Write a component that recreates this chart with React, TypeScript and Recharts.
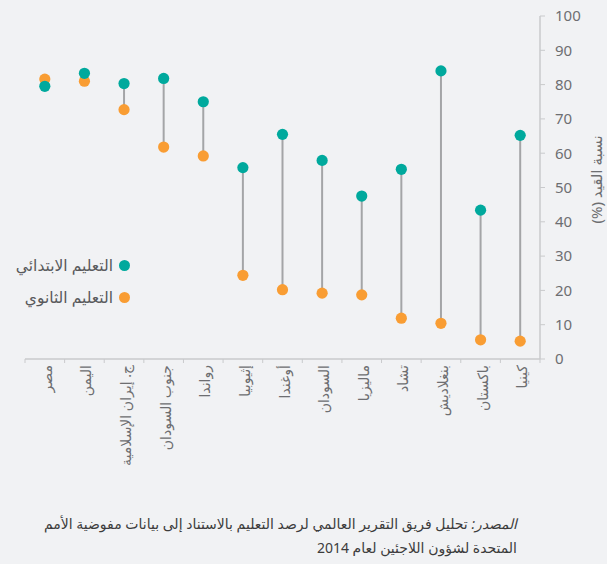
import React from 'react';
import { ComposedChart, Scatter, XAxis, YAxis, ErrorBar, Label } from 'recharts';

const categories = ['مصر', 'اليمن', 'ج. إيران الإسلامية', 'جنوب السودان', 'رواندا', 'إثيوبيا', 'أوغندا', 'السودان', 'ماليزيا', 'تشاد', 'بنغلاديش', 'باكستان', 'كينيا'];
const primary = [79.5, 83.3, 80.3, 81.8, 75.0, 55.8, 65.5, 57.9, 47.5, 55.3, 84.0, 43.4, 65.2];
const secondary = [81.6, 81.0, 72.7, 61.8, 59.2, 24.4, 20.2, 19.2, 18.7, 11.9, 10.4, 5.6, 5.2];
const yTicks = [0, 10, 20, 30, 40, 50, 60, 70, 80, 90, 100];
const seriesNames = ['التعليم الابتدائي', 'التعليم الثانوي'];
const seriesColors = ['#00a99d', '#f99d33'];
const yLabel = 'نسبة القيد (%)';
const sourceLead = 'المصدر:';
const sourceLine1 = ' تحليل فريق التقرير العالمي لرصد التعليم بالاستناد إلى بيانات مفوضية الأمم';
const sourceLine2 = 'المتحدة لشؤون اللاجئين لعام 2014';

const data = categories.map((name, i) => ({
  x: i + 0.5,
  name,
  primary: primary[i],
  secondary: secondary[i],
  err: primary[i] >= secondary[i] ? [0, primary[i] - secondary[i]] : [secondary[i] - primary[i], 0],
}));

const xTicks: number[] = [];
for (let i = 0; i <= categories.length * 2; i++) xTicks.push(i / 2);

const FONT = "'Noto Sans', 'DejaVu Sans', sans-serif";
const AXIS = '#c9cacc';
const TEXT = '#6d6e71';

const XTick = (props: any) => {
  const { x, y, payload } = props;
  const v = payload.value;
  if (Number.isInteger(v)) {
    return <line x1={x} x2={x} y1={y - 6} y2={y - 2} stroke={AXIS} strokeWidth={1} />;
  }
  const idx = Math.floor(v);
  return (
    <text
      transform={`translate(${x + 7},${y}) rotate(-90)`}
      textAnchor="end"
      fill={TEXT}
      fontSize={14}
      fontFamily={FONT}
    >
      {categories[idx]}
    </text>
  );
};

const Dot = (color: string) => (p: any) => <circle cx={p.cx} cy={p.cy} r={5.6} fill={color} />;

const YLabelContent = (props: any) => {
  const vb = props.viewBox;
  const cx = vb.x + vb.width - 11;
  const cy = vb.y + vb.height / 2 - 8;
  return (
    <text
      transform={`translate(${cx},${cy}) rotate(-90)`}
      textAnchor="middle"
      dominantBaseline="central"
      direction="rtl"
      fill={TEXT}
      fontSize={15}
      fontFamily={FONT}
    >
      {yLabel}
    </text>
  );
};

export default function App() {
  return (
    <div style={{ position: 'absolute', left: 0, top: 0, width: 607, height: 564, background: '#f1f2f4', fontFamily: FONT }}>
      <ComposedChart width={607} height={564} data={data} margin={{ top: 16, right: 0, left: 25, bottom: 65 }}>
        <XAxis
          dataKey="x"
          type="number"
          domain={[0, categories.length]}
          ticks={xTicks}
          interval={0}
          height={140}
          tickSize={4}
          tickMargin={2}
          tickLine={false}
          axisLine={{ stroke: AXIS, strokeWidth: 1.5 }}
          tick={<XTick />}
        />
        <YAxis
          orientation="right"
          type="number"
          domain={[0, 100]}
          ticks={yTicks}
          interval={0}
          width={67}
          tickSize={5}
          tickMargin={10}
          axisLine={{ stroke: AXIS, strokeWidth: 1.5 }}
          tickLine={{ stroke: AXIS }}
          tick={{ fill: TEXT, fontSize: 15, fontFamily: FONT }}
        >
          <Label content={<YLabelContent />} />
        </YAxis>
        <Scatter name={seriesNames[1]} dataKey="secondary" fill={seriesColors[1]} isAnimationActive={false} shape={Dot(seriesColors[1])}>
          <ErrorBar dataKey="err" direction="y" width={0} stroke="#a4a5a7" strokeWidth={2} isAnimationActive={false} />
        </Scatter>
        <Scatter name={seriesNames[0]} dataKey="primary" fill={seriesColors[0]} isAnimationActive={false} shape={Dot(seriesColors[0])} />
      </ComposedChart>
      <div style={{ position: 'absolute', left: 0, top: 249, width: 130 }}>
        {seriesNames.map((n, i) => (
          <div key={n} style={{ height: 32, display: 'flex', justifyContent: 'flex-end', alignItems: 'center' }}>
            <span style={{ fontSize: 15.5, color: '#58595b', marginRight: 6 }}>{n}</span>
            <span style={{ width: 11, height: 11, borderRadius: '50%', background: seriesColors[i], display: 'inline-block' }} />
          </div>
        ))}
      </div>
      <div
        dir="rtl"
        style={{ position: 'absolute', right: 90, top: 512, width: 510, fontSize: 14, lineHeight: '24px', color: '#3c3c3c', textAlign: 'right', whiteSpace: 'nowrap' }}
      >
        <div>
          <i>{sourceLead}</i>
          {sourceLine1}
        </div>
        <div>{sourceLine2}</div>
      </div>
    </div>
  );
}
